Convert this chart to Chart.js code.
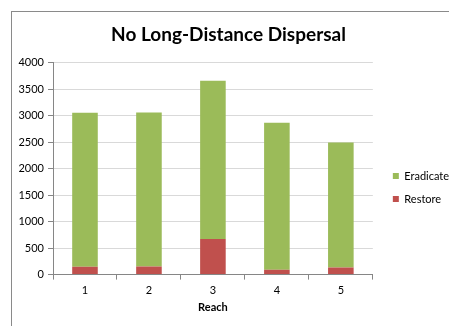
<!DOCTYPE html>
<html>
<head>
<meta charset="utf-8">
<script src="https://cdn.jsdelivr.net/npm/chart.js@4/dist/chart.umd.min.js"></script>
<style>
  html, body { margin: 0; padding: 0; background: #fff; }
  #wrap { position: relative; width: 449px; height: 326px; overflow: hidden; }
  #frame { position: absolute; left: 11px; top: 11px; width: 460px; height: 340px;
           border-left: 1px solid #8a8a8a; border-top: 1px solid #8a8a8a; }
  canvas { position: absolute; left: 0; top: 0; }
</style>
</head>
<body>
<div id="wrap">
  <div id="frame"></div>
  <canvas id="c" width="449" height="326"></canvas>
</div>
<script>
const categories = ['1', '2', '3', '4', '5'];
const restore = [150, 155, 670, 90, 135];
const eradicate = [2905, 2905, 2990, 2780, 2360];
const seriesNames = ['Restore', 'Eradicate'];
const yMin = 0, yMax = 4000, yStep = 500;

const FONT = 'Lato, "Open Sans", "Liberation Sans", sans-serif';
const AXIS = '#868686';
const GRID = '#d9d9d9';

new Chart(document.getElementById('c'), {
  type: 'bar',
  data: {
    labels: categories,
    datasets: [
      { label: seriesNames[0], data: restore, backgroundColor: '#C0504D', borderWidth: 0 },
      { label: seriesNames[1], data: eradicate, backgroundColor: '#9BBB59', borderWidth: 0 }
    ]
  },
  options: {
    responsive: false,
    animation: false,
    devicePixelRatio: 1,
    categoryPercentage: 1,
    barPercentage: 0.4,
    layout: { padding: { left: 0, right: -8, top: 0, bottom: 12 } },
    plugins: {
      title: {
        display: true,
        text: 'No Long-Distance Dispersal',
        color: '#000',
        font: { family: FONT, size: 19, weight: 'bold' },
        padding: { top: 23, bottom: 17 }
      },
      legend: {
        position: 'right',
        reverse: true,
        title: { display: true, text: ' ', font: { size: 1 }, padding: 30 },
        labels: {
          boxWidth: 6, boxHeight: 6, padding: 12, color: '#000',
          font: { family: FONT, size: 11 }
        }
      },
      tooltip: { enabled: false }
    },
    scales: {
      x: {
        stacked: true,
        grid: { drawOnChartArea: false, drawTicks: true, tickLength: 5, tickColor: AXIS, offset: true },
        border: { color: AXIS },
        ticks: { color: '#000', padding: 4, font: { family: FONT, size: 11 } },
        title: { display: true, text: 'Reach', color: '#000', padding: { top: 0, bottom: 0 },
                 font: { family: FONT, size: 11, weight: 'bold' } }
      },
      y: {
        stacked: true,
        min: yMin, max: yMax,
        ticks: { stepSize: yStep, color: '#000', padding: 4, font: { family: FONT, size: 11 },
                 callback: v => String(v) },
        grid: { color: ctx => (ctx.tick && ctx.tick.value === 0 ? AXIS : GRID), tickColor: AXIS, tickLength: 5 },
        border: { color: AXIS },
        afterFit: s => { s.width = 53; }
      },
      gap: {
        position: 'right',
        display: true,
        grid: { display: false },
        border: { display: false },
        ticks: { display: false },
        afterFit: s => { s.width = 8; }
      }
    }
  }
});
</script>
</body>
</html>
